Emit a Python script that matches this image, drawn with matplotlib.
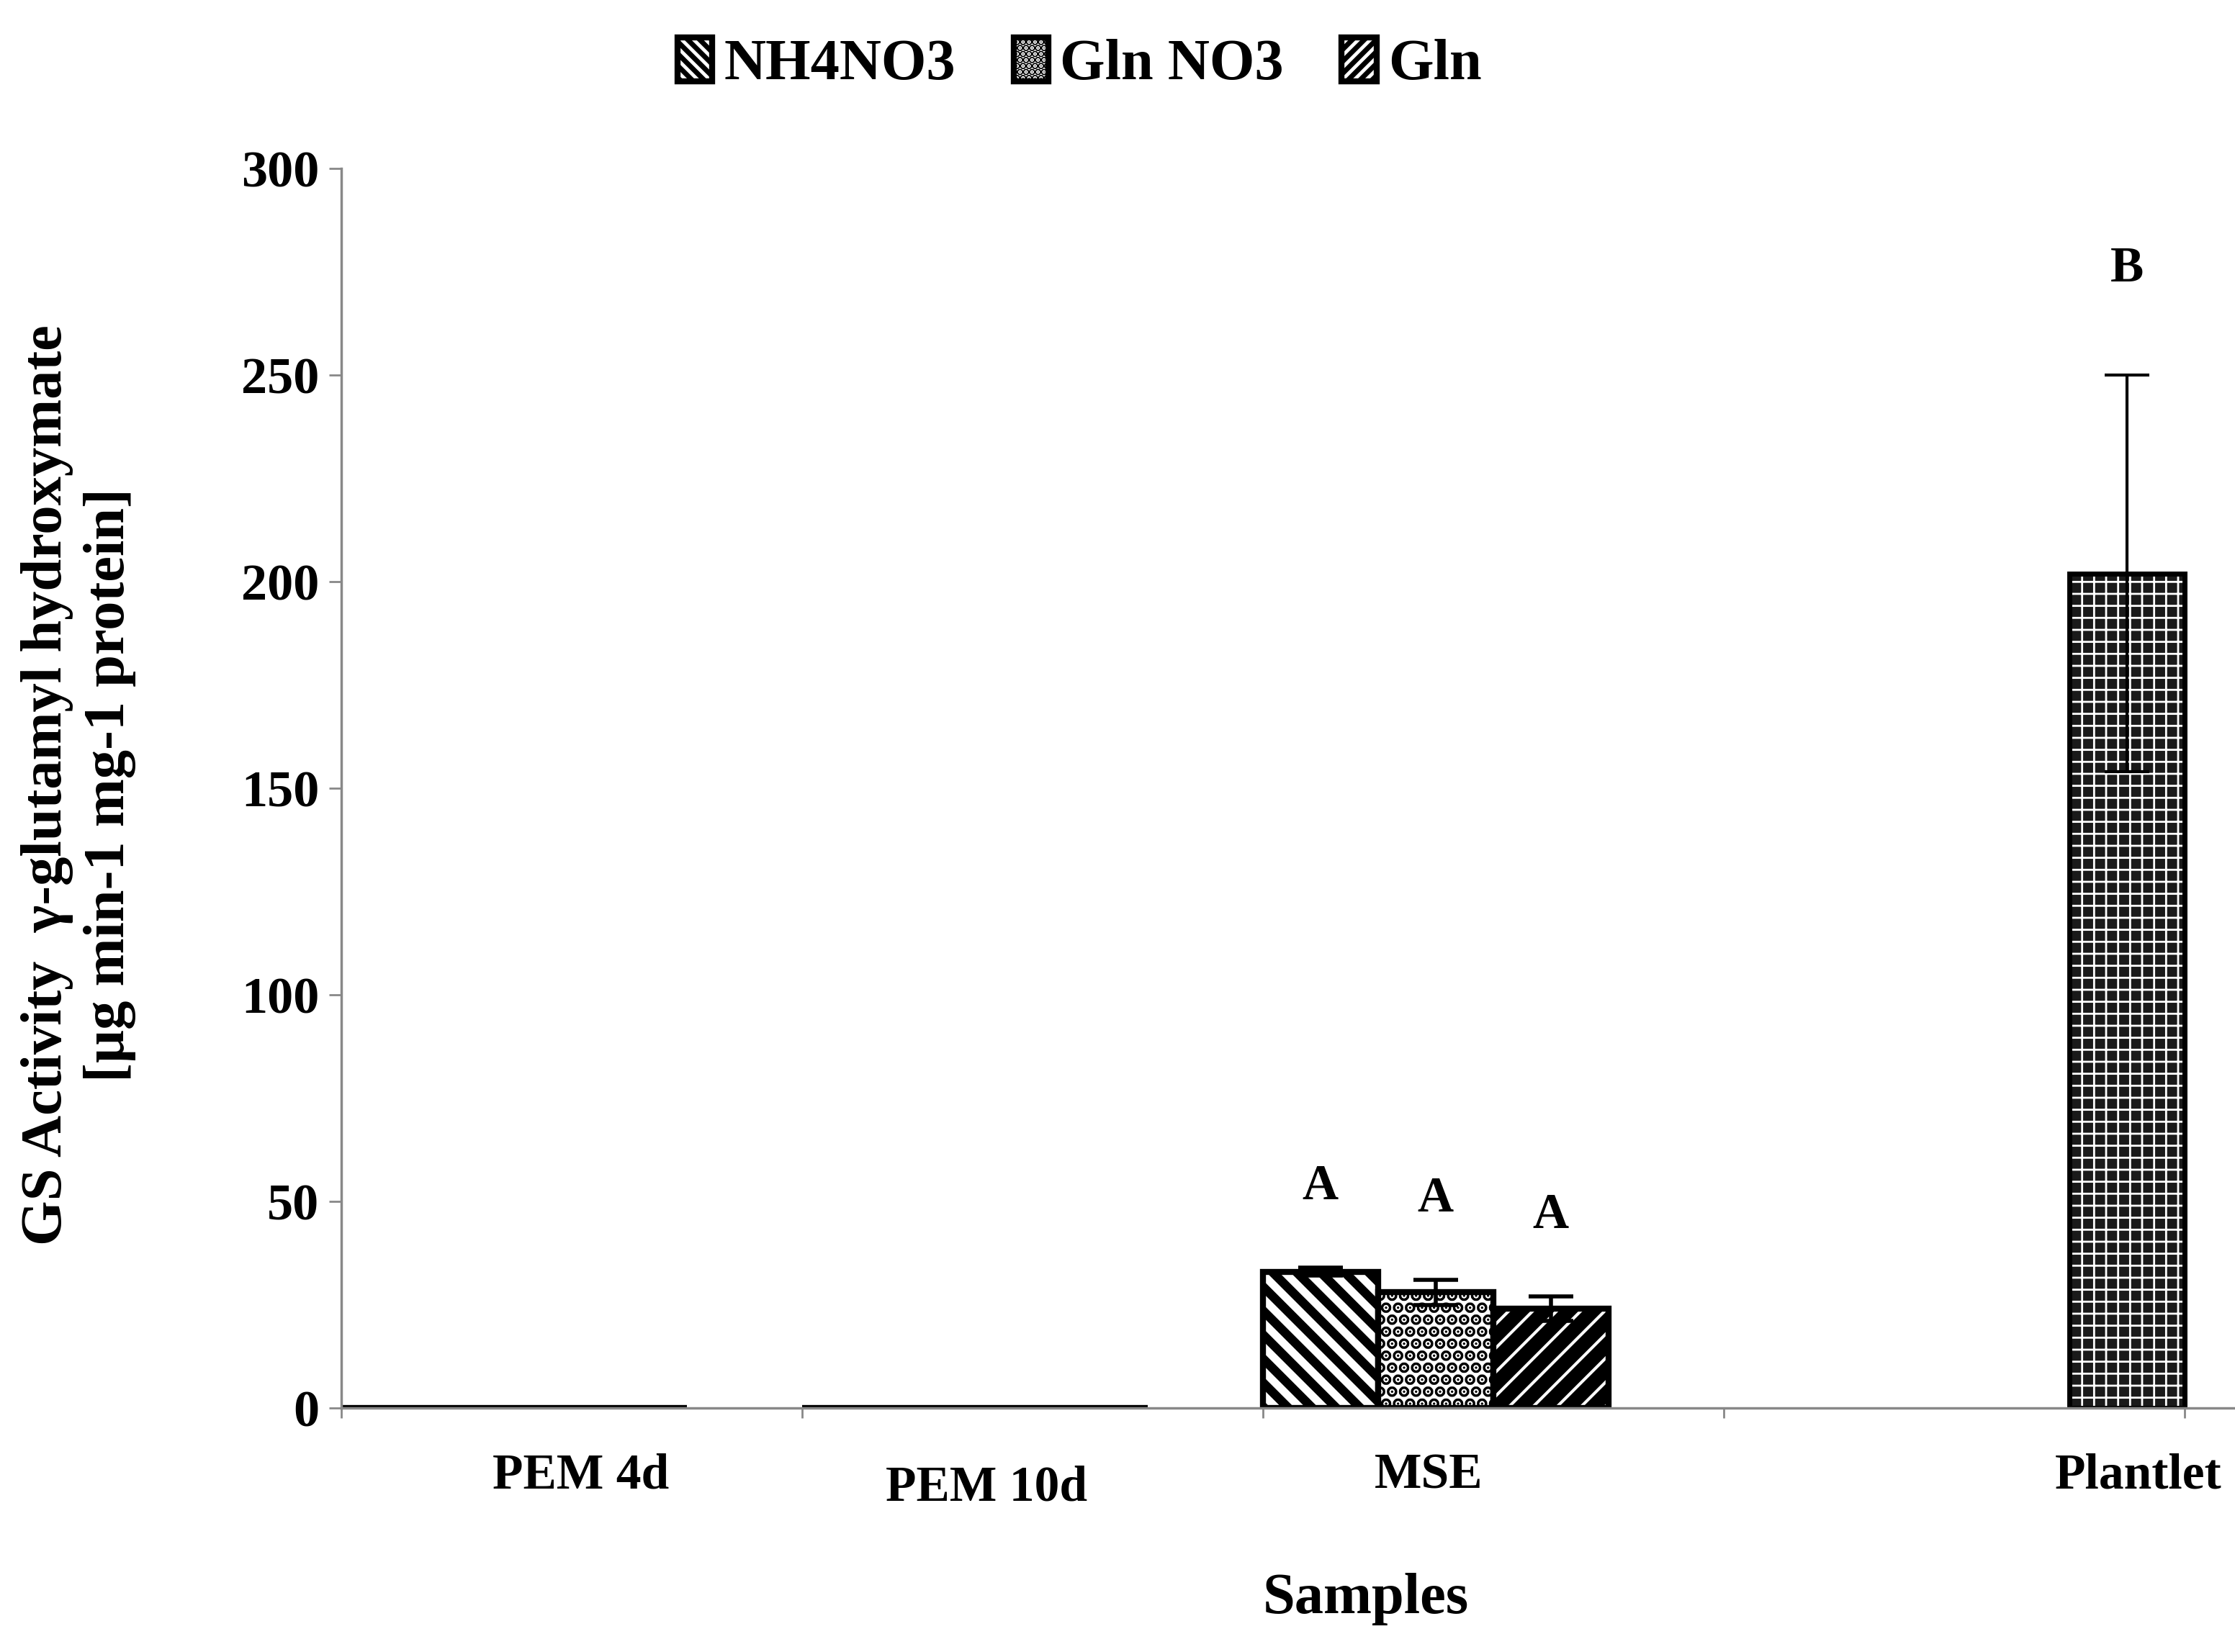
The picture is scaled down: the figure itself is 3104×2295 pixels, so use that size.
import matplotlib as mpl
import matplotlib.pyplot as plt
from matplotlib.patches import Patch

mpl.rcParams['font.family'] = ['Liberation Serif', 'DejaVu Serif']
mpl.rcParams['font.weight'] = 'bold'

categories = ['PEM 4d', 'PEM 10d', 'MSE', 'Plantlet']
series = ['NH4NO3', 'Gln NO3', 'Gln']
nh4no3 = [0, 0, 33, None]
gln_no3 = [0, 0, 28, None]
gln = [0, 0, 24, None]
nh4no3_err = [0, 0, 1, 0]
gln_no3_err = [0, 0, 3, 0]
gln_err = [0, 0, 3, 0]
plantlet = 202
plantlet_err = 48
letters_mse = ['A', 'A', 'A']
letter_plantlet = 'B'

fig = plt.figure(figsize=(31.04, 22.95), dpi=100)
ax = fig.add_axes([0.1527, 0.1477, 0.8473, 0.7503])
w = 0.25
hatches = ['\\', '.', '/']
hlw = [9, 8, 14]
vals = [nh4no3, gln_no3, gln]
errs = [nh4no3_err, gln_no3_err, gln_err]
for j in range(3):
    mpl.rcParams['hatch.linewidth'] = hlw[j]
    xs = [i + j * w + w / 2 for i in range(3)]
    ys = [vals[j][i] for i in range(3)]
    es = [errs[j][i] for i in range(3)]
    ax.bar(xs, ys, width=w, facecolor='white', edgecolor='black', hatch=hatches[j], linewidth=6)
    ax.errorbar(xs[2], ys[2], yerr=es[2], fmt='none', ecolor='black', elinewidth=4, capsize=22, capthick=4)
    ax.text(xs[2], ys[2] + es[2] + 14, letters_mse[j],
            ha='center', va='bottom', fontsize=50, fontweight='bold')
# plantlet
px = 3 + 3 * w + w / 2
mpl.rcParams['hatch.linewidth'] = 2
ax.bar([px], [plantlet], width=w, facecolor='#1a1a1a', edgecolor='white', hatch='+', linewidth=0)
ax.bar([px], [plantlet], width=w, fill=False, edgecolor='black', linewidth=5)
ax.errorbar(px, plantlet, yerr=plantlet_err, fmt='none', ecolor='black', elinewidth=3, capsize=22, capthick=3)
ax.text(px, 270, letter_plantlet, ha='center', va='bottom', fontsize=50, fontweight='bold')

ax.set_xlim(0, 4.11)
ax.set_ylim(0, 300)
ax.set_yticks(range(0, 301, 50))
ax.set_xticks([0, 1, 2, 3, 4])
ax.set_xticklabels([])
ax.tick_params(axis='x', length=10, width=2, color='#888888', direction='out')
ax.tick_params(axis='y', length=12, width=2, color='#888888', labelsize=52, pad=10)
for t in ax.get_yticklabels():
    t.set_fontweight('bold')
for s in ['top', 'right']:
    ax.spines[s].set_visible(False)
for s in ['left', 'bottom']:
    ax.spines[s].set_color('#888888')
    ax.spines[s].set_linewidth(2.5)

label_x = [0.52, 1.40, 2.36, 3.90]
label_dy = [-0.055, -0.065, -0.055, -0.055]
for lx, dy, c in zip(label_x, label_dy, categories):
    ax.text(lx, dy, c, transform=ax.get_xaxis_transform(), ha='center', va='center',
            fontsize=50, fontweight='bold')
fig.text(0.611, 0.032, 'Samples', ha='center', va='center', fontsize=58, fontweight='bold')
fig.text(0.035, 0.525, 'GS Activity  \u03b3-glutamyl hydroxymate\n[\u00b5g min-1 mg-1 protein]',
         rotation=90, ha='center', va='center', fontsize=58, fontweight='bold', linespacing=1.25)

handles = []
for j in range(3):
    mpl.rcParams['hatch.linewidth'] = 5
    handles.append(Patch(facecolor='white', edgecolor='black', hatch=hatches[j] * 2, linewidth=6))
fig.legend(handles, series, loc='center', bbox_to_anchor=(0.483, 0.961), ncol=3, frameon=False,
           prop={'size': 58, 'weight': 'bold'}, handlelength=0.6, handleheight=0.8,
           handletextpad=0.2, columnspacing=1.0)
fig.savefig('out.png', dpi=100)
